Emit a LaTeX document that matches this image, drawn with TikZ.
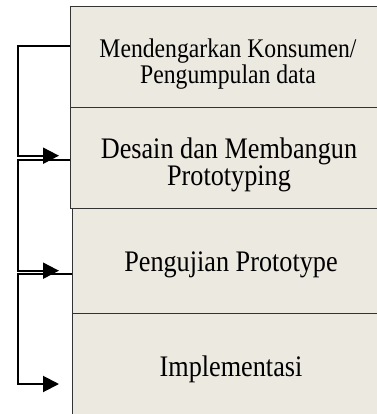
\documentclass[tikz,border=0pt]{standalone}
\usepackage{fontspec}
\setmainfont{Liberation Serif}
\newfontfamily\tnr[FakeStretch=0.88]{Liberation Serif}
\usetikzlibrary{arrows.meta}
\definecolor{boxfill}{RGB}{236,233,224}
\tikzset{
  stagebox/.style={rectangle, fill=boxfill, draw=black!80, line width=1.2pt, anchor=north west, minimum width=320pt, inner sep=0pt},
  lbl/.style={anchor=base, inner sep=0pt, font=\tnr\fontsize{29.8}{26}\selectfont},
  lblsmall/.style={anchor=base, inner sep=0pt, font=\tnr\fontsize{26.9}{25}\selectfont},
  conn/.style={line width=2pt, line join=miter},
  arr/.style={conn, -{Triangle[length=16pt,width=16pt]}}
}
\begin{document}
\begin{tikzpicture}[x=1pt,y=-1pt]
\useasboundingbox (0,0) rectangle (376,414);
% boxes
\node[stagebox, minimum height=101pt] (b1) at (70,6) {};
\node[stagebox, minimum height=101pt] (b2) at (70,107) {};
\node[stagebox, minimum height=105pt] (b3) at (71.5,208) {};
\node[stagebox, minimum height=110pt] (b4) at (71.5,313) {};
% texts
\node[lblsmall] (t1a) at (228,58) {Mendengarkan Konsumen/};
\node[lblsmall] (t1b) at (228,83.5) {Pengumpulan data};
\node[lbl] (t2a) at (229,158.5) {Desain dan Membangun};
\node[lbl] (t2b) at (229,185.5) {Prototyping};
\node[lbl] (t3) at (231,271.7) {Pengujian Prototype};
\node[lbl] (t4) at (231,376) {Implementasi};
% connector anchor points
\coordinate (s1) at (b1.west |- 0,46.5);
\coordinate (e1) at (59,155.7);
\coordinate (s2) at (b2.west |- 0,160);
\coordinate (e2) at (59,270.7);
\coordinate (s3) at (b3.west |- 0,274);
\coordinate (e3) at (59,384);
\draw[arr] (s1) -- (17.5,46.5) |- (e1);
\draw[arr] (s2) -- (17.5,160) |- (e2);
\draw[arr] (s3) -- (17.5,274) |- (e3);
\end{tikzpicture}
\end{document}
